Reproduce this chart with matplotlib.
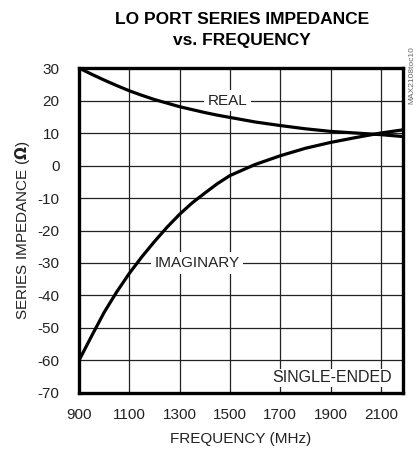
import matplotlib.pyplot as plt
from matplotlib import font_manager

# Values
freq_mhz = [900, 950, 1000, 1050, 1100, 1150, 1200, 1250, 1300, 1350, 1400, 1450, 1500,
            1600, 1700, 1800, 1900, 2000, 2100, 2190]
real_ohm = [30.0, 28.1, 26.3, 24.6, 23.0, 21.6, 20.3, 19.2, 18.1, 17.2, 16.3, 15.5, 14.8,
            13.4, 12.3, 11.3, 10.5, 10.0, 9.5, 8.9]
imag_ohm = [-60.0, -52.5, -45.2, -38.9, -33.2, -28.1, -23.4, -19.0, -15.0, -11.5, -8.5, -5.6, -3.1,
            0.3, 3.0, 5.3, 7.1, 8.6, 10.0, 11.0]

x_ticks = [900, 1100, 1300, 1500, 1700, 1900, 2100]
y_ticks = [30, 20, 10, 0, -10, -20, -30, -40, -50, -60, -70]

names = {f.name for f in font_manager.fontManager.ttflist}
narrow = 'Liberation Sans Narrow' if 'Liberation Sans Narrow' in names else 'Liberation Sans'
plt.rcParams['font.family'] = [narrow, 'DejaVu Sans']
plt.rcParams['axes.unicode_minus'] = False

fig = plt.figure(figsize=(4.17, 4.55), dpi=100)
ax = fig.add_axes([0.1894, 0.1363, 0.7770, 0.7142])

ax.plot(freq_mhz, real_ohm, color='black', lw=2.3, solid_capstyle='butt', zorder=3)
ax.plot(freq_mhz, imag_ohm, color='black', lw=2.3, solid_capstyle='butt', zorder=3)

ax.set_xlim(900, 2188)
ax.set_ylim(-70, 30)
ax.set_xticks(x_ticks)
ax.set_yticks(y_ticks)
ax.tick_params(length=0, labelsize=11, colors='#222222')
ax.tick_params(axis='x', pad=11)
ax.tick_params(axis='y', pad=14)
ax.grid(True, color='#222222', lw=0.9)
ax.set_axisbelow(True)
for s in ax.spines.values():
    s.set_linewidth(2.4)
    s.set_color('black')

ax.set_xlabel('FREQUENCY (MHz)', fontsize=11, color='#222222', labelpad=7)
ax.set_ylabel('SERIES IMPEDANCE ($\\mathbf{\\Omega}$)', fontsize=11, color='#222222', labelpad=4)

box = dict(facecolor='white', edgecolor='none', pad=2.5)
ax.text(1489, 20, 'REAL', fontsize=11, color='#222222', ha='center', va='center', bbox=box, zorder=2)
ax.text(1369, -30, 'IMAGINARY', fontsize=11, color='#222222', ha='center', va='center', bbox=box, zorder=2)
ax.text(2145, -65.3, 'SINGLE-ENDED', fontsize=11.5, color='#222222', ha='right', va='center',
        bbox=dict(facecolor='white', edgecolor='none', pad=1), zorder=2)

fig.text(0.58, 0.934, 'LO PORT SERIES IMPEDANCE\nvs. FREQUENCY', fontsize=12.5, fontweight='bold',
         ha='center', va='center', linespacing=1.55)
fig.text(0.987, 0.835, 'MAX2108toc10', fontsize=6, color='#666666', rotation=90, ha='center', va='center')

fig.savefig('out.png', dpi=100)
